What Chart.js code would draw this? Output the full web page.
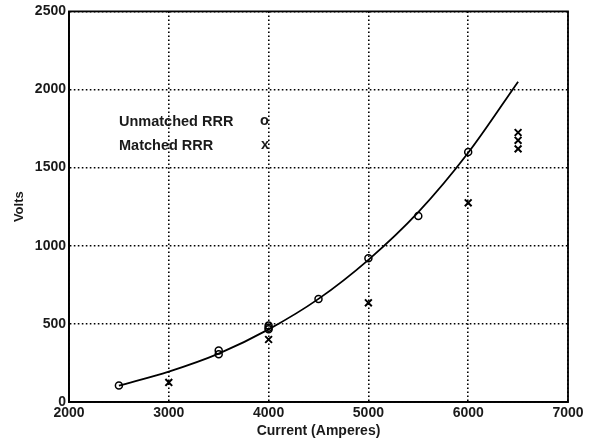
<!DOCTYPE html>
<html>
<head>
<meta charset="utf-8">
<script src="https://cdn.jsdelivr.net/npm/chart.js@4.4.1/dist/chart.umd.min.js"></script>
<style>
  html, body { margin: 0; padding: 0; background: #fff; }
  #wrap { width: 592px; height: 444px; }
</style>
</head>
<body>
<div id="wrap"><canvas id="chart" width="592" height="444"></canvas></div>
<script>
// unmatched RRR (circles)
const unmatchedX = [2500, 3500, 3500, 4000, 4000, 4000, 4500, 5000, 5500, 6000];
const unmatchedY = [105, 330, 305, 490, 475, 465, 660, 920, 1190, 1600];

// matched RRR (crosses)
const matchedX = [3000, 4000, 5000, 6000, 6500, 6500, 6500];
const matchedY = [125, 400, 635, 1275, 1725, 1675, 1620];

// fitted curve
const fitX = [2500, 3000, 3500, 4000, 4500, 5000, 5500, 6000, 6500];
const fitY = [105, 195, 310, 465, 660, 910, 1215, 1595, 2050];

const xTicks = [2000, 3000, 4000, 5000, 6000, 7000];
const yTicks = [0, 500, 1000, 1500, 2000, 2500];

const toPoints = (xs, ys) => xs.map((x, i) => ({ x, y: ys[i] }));

const FONT = "Liberation Sans, Arial, sans-serif";
const INK = "#1a1a1a";

const frameAndLegend = {
  id: "frameAndLegend",
  afterDraw(chart) {
    const { ctx, chartArea: a } = chart;
    ctx.save();
    ctx.strokeStyle = "#000";
    ctx.lineWidth = 1.8;
    ctx.setLineDash([]);
    ctx.strokeRect(a.left, a.top, a.right - a.left, a.bottom - a.top);

    ctx.fillStyle = INK;
    ctx.font = `bold 14.5px ${FONT}`;
    ctx.textBaseline = "middle";
    ctx.fillText("Unmatched RRR", 119, 122);
    ctx.fillText("Matched RRR", 119, 146);
    ctx.fillText("o", 260, 121);
    ctx.fillText("x", 261, 145);
    ctx.restore();
  },
};

new Chart(document.getElementById("chart"), {
  type: "scatter",
  data: {
    datasets: [
      {
        label: "fit",
        type: "line",
        data: toPoints(fitX, fitY),
        borderColor: "#000",
        borderWidth: 1.8,
        pointRadius: 0,
        cubicInterpolationMode: "monotone",
        fill: false,
      },
      {
        label: "Unmatched RRR",
        data: toPoints(unmatchedX, unmatchedY),
        pointStyle: "circle",
        pointRadius: 3.5,
        backgroundColor: "rgba(0,0,0,0)",
        borderColor: "#000",
        borderWidth: 1.5,
      },
      {
        label: "Matched RRR",
        data: toPoints(matchedX, matchedY),
        pointStyle: "crossRot",
        pointRadius: 4.8,
        borderColor: "#000",
        borderWidth: 2,
      },
    ],
  },
  options: {
    responsive: false,
    animation: false,
    layout: { padding: { left: 0, top: 10, right: 24, bottom: 0 } },
    plugins: { legend: { display: false }, tooltip: { enabled: false } },
    scales: {
      x: {
        type: "linear",
        min: 2000,
        max: 7000,
        afterBuildTicks: (s) => { s.ticks = xTicks.map((v) => ({ value: v })); },
        afterFit: (s) => { s.height = 42; },
        grid: { color: "#000", lineWidth: 1.6, drawTicks: false },
        border: { display: true, color: "#000", width: 1.8, dash: [1.6, 2.4] },
        ticks: {
          color: INK, font: { family: FONT, size: 14, weight: "bold" }, padding: 3, maxRotation: 0,
          callback: (v) => String(v),
        },
        title: { display: true, text: "Current (Amperes)", color: INK, font: { family: FONT, size: 14, weight: "bold" }, padding: { top: -2 } },
      },
      y: {
        type: "linear",
        min: 0,
        max: 2500,
        afterBuildTicks: (s) => { s.ticks = yTicks.map((v) => ({ value: v })); },
        afterFit: (s) => { s.width = 69; },
        grid: { color: "#000", lineWidth: 1.6, drawTicks: false },
        border: { display: true, color: "#000", width: 1.8, dash: [1.6, 2.4] },
        ticks: {
          color: INK, font: { family: FONT, size: 14, weight: "bold" }, padding: 3,
          callback: (v) => String(v),
        },
        title: { display: true, text: "Volts", color: INK, font: { family: FONT, size: 13, weight: "bold" }, padding: { top: 12, bottom: 0 } },
      },
    },
  },
  plugins: [frameAndLegend],
});
</script>
</body>
</html>
